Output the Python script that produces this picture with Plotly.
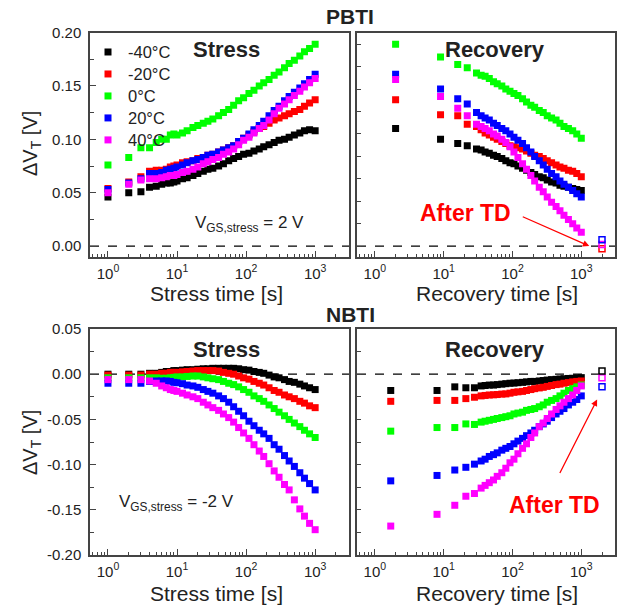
import plotly.graph_objects as go

# ---------------- data ----------------
temps = ["-40°C", "-20°C", "0°C", "20°C", "40°C"]
colors = ["#000000", "#ff0000", "#00ff00", "#0000ff", "#ff00ff"]

stress_t = [1, 2, 3, 4, 5, 6, 7, 8, 9, 10, 12, 14, 17, 20, 24, 28, 33, 40, 47, 56, 66, 78, 92, 110,
            130, 155, 180, 215, 255, 300, 360, 420, 500, 600, 700, 830, 1000]

pbti_stress_m40 = [0.046, 0.050, 0.051, 0.055, 0.056, 0.058, 0.059, 0.059, 0.060, 0.061,
                   0.063, 0.064, 0.066, 0.068, 0.070, 0.072, 0.073,
                   0.075, 0.077, 0.080, 0.082, 0.084, 0.086, 0.087,
                   0.089, 0.091, 0.093, 0.095, 0.097, 0.099,
                   0.100, 0.102, 0.104, 0.106, 0.108, 0.109, 0.108]
pbti_stress_m20 = [0.054, 0.060, 0.065, 0.070, 0.071, 0.071, 0.072, 0.074, 0.075, 0.076,
                   0.078, 0.079, 0.080, 0.082, 0.083, 0.085, 0.086,
                   0.088, 0.090, 0.092, 0.094, 0.098, 0.101, 0.104,
                   0.107, 0.110, 0.112, 0.115, 0.118, 0.120,
                   0.122, 0.124, 0.126, 0.128, 0.131, 0.134, 0.137]
pbti_stress_0 = [0.076, 0.083, 0.092, 0.092, 0.097, 0.100, 0.100, 0.104, 0.105, 0.104,
                 0.106, 0.108, 0.111, 0.113, 0.115, 0.117, 0.119,
                 0.122, 0.125, 0.128, 0.132, 0.136, 0.139, 0.143,
                 0.146, 0.150, 0.153, 0.156, 0.160, 0.163,
                 0.167, 0.171, 0.174, 0.178, 0.182, 0.185, 0.189]
pbti_stress_20 = [0.053, 0.059, 0.063, 0.068, 0.068, 0.069, 0.071, 0.072, 0.073, 0.074,
                  0.076, 0.078, 0.080, 0.081, 0.083, 0.085, 0.086,
                  0.088, 0.090, 0.092, 0.094, 0.098, 0.101, 0.105,
                  0.109, 0.113, 0.117, 0.122, 0.127, 0.131,
                  0.136, 0.140, 0.144, 0.148, 0.152, 0.156, 0.161]
pbti_stress_40 = [0.050, 0.058, 0.062, 0.063, 0.063, 0.064, 0.065, 0.066, 0.066, 0.067,
                  0.069, 0.070, 0.072, 0.074, 0.077, 0.079, 0.081,
                  0.083, 0.086, 0.088, 0.091, 0.095, 0.099, 0.102,
                  0.106, 0.110, 0.113, 0.118, 0.124, 0.129,
                  0.133, 0.137, 0.141, 0.145, 0.149, 0.153, 0.157]

pbti_rec_t = [2, 9, 16, 22, 30, 35, 40, 46, 53, 60, 70, 80, 92, 105, 120, 140, 160, 185, 210, 245,
              280, 320, 370, 430, 490, 560, 650, 750, 860, 1000]
pbti_rec_m40 = [0.110, 0.100, 0.096, 0.094, 0.091, 0.090, 0.088, 0.087, 0.085, 0.084,
                0.082, 0.080, 0.078, 0.077, 0.075, 0.073, 0.071, 0.069, 0.067, 0.065,
                0.064, 0.062, 0.060, 0.059, 0.057, 0.056, 0.055, 0.054, 0.053, 0.052]
pbti_rec_m20 = [0.137, 0.123, 0.122, 0.114, 0.112, 0.109, 0.106, 0.104, 0.102, 0.100,
                0.098, 0.096, 0.094, 0.093, 0.092, 0.091, 0.089, 0.087, 0.085, 0.084,
                0.082, 0.080, 0.078, 0.076, 0.074, 0.073, 0.071, 0.070, 0.068, 0.065]
pbti_rec_0 = [0.189, 0.177, 0.170, 0.167, 0.162, 0.160, 0.159, 0.157, 0.154, 0.152,
              0.150, 0.147, 0.145, 0.143, 0.141, 0.138, 0.135, 0.132, 0.130, 0.127,
              0.125, 0.122, 0.120, 0.118, 0.115, 0.112, 0.110, 0.108, 0.105, 0.101]
pbti_rec_20 = [0.161, 0.147, 0.138, 0.133, 0.125, 0.122, 0.120, 0.118, 0.115, 0.113,
               0.110, 0.108, 0.105, 0.102, 0.099, 0.096, 0.092, 0.088, 0.084, 0.080,
               0.076, 0.072, 0.068, 0.065, 0.061, 0.058, 0.055, 0.052, 0.049, 0.046]
pbti_rec_40 = [0.156, 0.140, 0.129, 0.122, 0.114, 0.112, 0.110, 0.108, 0.105, 0.103,
               0.100, 0.097, 0.093, 0.088, 0.083, 0.077, 0.072, 0.066, 0.061, 0.055,
               0.051, 0.046, 0.041, 0.037, 0.033, 0.029, 0.025, 0.021, 0.017, 0.013]

nbti_stress_m40 = [0.000, 0.000, 0.000, 0.001, 0.001, 0.002, 0.003, 0.003, 0.004, 0.004,
                   0.0045, 0.005, 0.005, 0.0055, 0.006, 0.006, 0.0065,
                   0.0065, 0.0065, 0.0065, 0.0065, 0.006, 0.005, 0.0045,
                   0.003, 0.002, 0.001, -0.001, -0.003, -0.004,
                   -0.006, -0.008, -0.009, -0.011, -0.013, -0.015, -0.017]
nbti_stress_m20 = [-0.001, -0.001, -0.001, 0.000, 0.000, 0.001, 0.001, 0.002, 0.002, 0.002,
                   0.0026, 0.003, 0.0035, 0.004, 0.004, 0.004, 0.004,
                   0.0035, 0.002, 0.001, 0.000, -0.002, -0.004, -0.0055,
                   -0.008, -0.010, -0.012, -0.015, -0.018, -0.020,
                   -0.023, -0.025, -0.027, -0.030, -0.032, -0.035, -0.037]
nbti_stress_0 = [-0.004, -0.004, -0.004, -0.004, -0.004, -0.0045, -0.0045, -0.004, -0.0035, -0.003,
                 -0.003, -0.0025, -0.002, -0.002, -0.003, -0.004, -0.005,
                 -0.006, -0.008, -0.010, -0.0115, -0.014, -0.017, -0.020,
                 -0.024, -0.027, -0.030, -0.034, -0.038, -0.042,
                 -0.046, -0.050, -0.054, -0.058, -0.062, -0.066, -0.070]
nbti_stress_20 = [-0.010, -0.010, -0.010, -0.008, -0.0075, -0.0075, -0.0075, -0.008, -0.009, -0.0095,
                  -0.0105, -0.012, -0.013, -0.0145, -0.017, -0.019, -0.021,
                  -0.024, -0.027, -0.031, -0.036, -0.041, -0.046, -0.052,
                  -0.057, -0.062, -0.066, -0.071, -0.078, -0.083,
                  -0.090, -0.096, -0.102, -0.109, -0.115, -0.121, -0.128]
nbti_stress_40 = [-0.006, -0.006, -0.006, -0.0075, -0.010, -0.013, -0.015, -0.017, -0.018, -0.019,
                  -0.021, -0.023, -0.025, -0.027, -0.031, -0.034, -0.037,
                  -0.040, -0.044, -0.048, -0.053, -0.059, -0.065, -0.071,
                  -0.078, -0.085, -0.091, -0.099, -0.107, -0.114,
                  -0.122, -0.128, -0.139, -0.149, -0.157, -0.165, -0.172]

nbti_rec_t = [1.7, 8, 14.5, 21, 28, 35, 40, 46, 53, 60, 70, 80, 92, 105, 120, 140, 160, 185, 210, 245,
              280, 320, 370, 430, 490, 560, 650, 750, 860, 1000]
nbti_rec_m40 = [-0.018, -0.018, -0.014, -0.015, -0.015, -0.013, -0.0125, -0.012, -0.012, -0.0115,
                -0.011, -0.0105, -0.010, -0.0098, -0.0094, -0.009, -0.0085, -0.008, -0.008, -0.0075,
                -0.007, -0.0065, -0.006, -0.0057, -0.0053, -0.005, -0.0047, -0.0045, -0.004, -0.0038]
nbti_rec_m20 = [-0.030, -0.029, -0.029, -0.027, -0.0255, -0.024, -0.0235, -0.023, -0.0228, -0.0225,
                -0.022, -0.0218, -0.021, -0.020, -0.0195, -0.019, -0.018, -0.017, -0.016, -0.0152,
                -0.0145, -0.0135, -0.0125, -0.0115, -0.011, -0.010, -0.0093, -0.0085, -0.008, -0.0075]
nbti_rec_0 = [-0.063, -0.059, -0.059, -0.055, -0.0556, -0.053, -0.052, -0.051, -0.050, -0.049,
              -0.048, -0.047, -0.046, -0.044, -0.043, -0.042, -0.040, -0.039, -0.038, -0.036,
              -0.034, -0.031, -0.029, -0.027, -0.024, -0.021, -0.018, -0.016, -0.014, -0.012]
nbti_rec_20 = [-0.118, -0.112, -0.106, -0.103, -0.0995, -0.096, -0.094, -0.091, -0.089, -0.087,
               -0.084, -0.082, -0.080, -0.077, -0.074, -0.071, -0.068, -0.065, -0.062, -0.058,
               -0.055, -0.052, -0.048, -0.044, -0.041, -0.038, -0.034, -0.031, -0.028, -0.024]
nbti_rec_40 = [-0.168, -0.155, -0.145, -0.135, -0.132, -0.126, -0.123, -0.120, -0.117, -0.113,
               -0.109, -0.104, -0.098, -0.094, -0.088, -0.082, -0.077, -0.070, -0.065, -0.058,
               -0.054, -0.049, -0.044, -0.039, -0.035, -0.031, -0.027, -0.023, -0.018, -0.013]

# After thermal detrapping (open symbols)
td_t = 2000
pbti_td_colors = ["#ff0000", "#ff00ff", "#0000ff"]
pbti_td_vals = [-0.0025, 0.0015, 0.006]
nbti_td_colors = ["#0000ff", "#ff00ff", "#000000"]
nbti_td_vals = [-0.014, -0.004, 0.0035]

x_tickvals = [1, 10, 100, 1000]
x_ticktext = ["10<sup>0</sup>", "10<sup>1</sup>", "10<sup>2</sup>", "10<sup>3</sup>"]
pbti_ytickvals = [0.0, 0.05, 0.10, 0.15, 0.20]
pbti_yticktext = ["0.00", "0.05", "0.10", "0.15", "0.20"]
nbti_ytickvals = [-0.20, -0.15, -0.10, -0.05, 0.0, 0.05]
nbti_yticktext = ["-0.20", "-0.15", "-0.10", "-0.05", "0.00", "0.05"]

# ---------------- figure ----------------
W, H = 628, 608
OFF = 8  # page body margin of the html page
FONT = "Arial, Liberation Sans, sans-serif"


def px(x):
    return (x - OFF) / W


def py(y):
    return 1 - (y - OFF) / H


fig = go.Figure()

panels = [
    ("x", "y", stress_t, [pbti_stress_m40, pbti_stress_m20, pbti_stress_0, pbti_stress_20, pbti_stress_40], True),
    ("x2", "y2", pbti_rec_t, [pbti_rec_m40, pbti_rec_m20, pbti_rec_0, pbti_rec_20, pbti_rec_40], False),
    ("x3", "y3", stress_t, [nbti_stress_m40, nbti_stress_m20, nbti_stress_0, nbti_stress_20, nbti_stress_40], False),
    ("x4", "y4", nbti_rec_t, [nbti_rec_m40, nbti_rec_m20, nbti_rec_0, nbti_rec_20, nbti_rec_40], False),
]

for xa, ya, tt, series, show in panels:
    for name, col, vals in zip(temps, colors, series):
        fig.add_trace(go.Scatter(
            x=tt, y=vals, mode="markers",
            name="<span style='font-size:16.5px'>%s</span>" % name, showlegend=show,
            marker=dict(symbol="square", size=7, color=col, line=dict(width=0)),
            xaxis=xa, yaxis=ya))

for col, v in zip(pbti_td_colors, pbti_td_vals):
    fig.add_trace(go.Scatter(x=[td_t], y=[v], mode="markers", showlegend=False,
                             marker=dict(symbol="square-open", size=6, color=col, line=dict(width=1.5)),
                             xaxis="x2", yaxis="y2"))
for col, v in zip(nbti_td_colors, nbti_td_vals):
    fig.add_trace(go.Scatter(x=[td_t], y=[v], mode="markers", showlegend=False,
                             marker=dict(symbol="square-open", size=6, color=col, line=dict(width=1.5)),
                             xaxis="x4", yaxis="y4"))

minor_x = [m * 10 ** d for d in range(-1, 4) for m in range(2, 10)]
minor_x = [v for v in minor_x if 0.55 <= v <= 3000]

xdom_l = [px(90), px(349)]
xdom_r = [px(357), px(615)]
ydom_t = [py(257), py(32.5)]
ydom_b = [py(555), py(329)]

line_col = "#444444"


def xaxis(dom, anchor):
    return dict(domain=dom, anchor=anchor, type="log", range=[-0.26, 3.49], automargin=False,
                tickvals=x_tickvals, ticktext=x_ticktext, ticks="inside", ticklen=6,
                tickwidth=1, tickcolor=line_col, ticklabelstandoff=2,
                minor=dict(tickvals=minor_x, ticks="inside", ticklen=3, tickcolor=line_col, tickwidth=1),
                showline=True, linecolor=line_col, linewidth=1.5, mirror=True,
                showgrid=False, zeroline=False,
                tickfont=dict(size=15, family=FONT, color="#222"))


def yaxis(dom, anchor, rng, tv, tt, labels, dtick_minor):
    d = dict(domain=dom, anchor=anchor, range=rng, ticks="inside", ticklen=6, automargin=False,
             tickwidth=1, tickcolor=line_col,
             showline=True, linecolor=line_col, linewidth=1.5, mirror=True,
             showgrid=False, zeroline=False,
             tickfont=dict(size=15, family=FONT, color="#222"))
    if labels:
        d.update(tickvals=tv, ticktext=tt, ticklabelstandoff=4,
                 minor=dict(tick0=0, dtick=dtick_minor, ticks="inside", ticklen=4,
                            tickcolor=line_col, tickwidth=1))
    else:
        d.update(tickmode="linear", tick0=0, dtick=dtick_minor, showticklabels=False, ticklen=4)
    return d


fig.update_layout(
    width=W, height=H, autosize=False,
    margin=dict(l=0, r=0, t=0, b=0, pad=0, autoexpand=False),
    paper_bgcolor="white", plot_bgcolor="white",
    font=dict(family=FONT, color="#222"),
    xaxis=xaxis(xdom_l, "y"),
    xaxis2=xaxis(xdom_r, "y2"),
    xaxis3=xaxis(xdom_l, "y3"),
    xaxis4=xaxis(xdom_r, "y4"),
    yaxis=yaxis(ydom_t, "x", [-0.0102, 0.2], pbti_ytickvals, pbti_yticktext, True, 0.025),
    yaxis2=yaxis(ydom_t, "x2", [-0.0102, 0.2], None, None, False, 0.021),
    yaxis3=yaxis(ydom_b, "x3", [-0.2, 0.05], nbti_ytickvals, nbti_yticktext, True, 0.025),
    yaxis4=yaxis(ydom_b, "x4", [-0.2, 0.05], None, None, False, 0.025),
    showlegend=True,
    legend=dict(x=px(88), y=py(36), xanchor="left", yanchor="top",
                font=dict(size=14.6, family=FONT, color="#222"),
                bgcolor="rgba(0,0,0,0)", tracegroupgap=0, itemwidth=30),
)

shapes = []
for xr, yr in [("x", "y"), ("x2", "y2"), ("x3", "y3"), ("x4", "y4")]:
    shapes.append(dict(type="line", xref=xr + " domain", yref=yr, x0=0, x1=1, y0=0, y1=0,
                       line=dict(color="black", width=1.3, dash="dash"), layer="below"))
fig.update_layout(shapes=shapes)

ann = []


def text(x, y, s, size, bold=False, color="#222", angle=0):
    ann.append(dict(x=px(x), y=py(y), xref="paper", yref="paper", text=("<b>%s</b>" % s) if bold else s,
                    showarrow=False, xanchor="center", yanchor="middle", textangle=angle,
                    font=dict(size=size, family=FONT, color=color)))


text(350, 17, "PBTI", 21, True)
text(350, 314, "NBTI", 21, True)
text(226, 49, "Stress", 22, True)
text(226, 349, "Stress", 22, True)
text(495, 50, "Recovery", 22, True)
text(495, 349, "Recovery", 22, True)
text(249, 224, "V<sub>GS,stress</sub> = 2 V", 17)
text(176, 503, "V<sub>GS,stress</sub> = -2 V", 17)
text(31, 144, "ΔV<sub>T</sub> [V]", 20, angle=-90)
text(31, 443, "ΔV<sub>T</sub> [V]", 20, angle=-90)
text(216, 293, "Stress time [s]", 21)
text(216, 593, "Stress time [s]", 21)
text(497, 293, "Recovery time [s]", 21)
text(497, 593, "Recovery time [s]", 21)
text(466, 213, "After TD", 23, True, color="#ff0000")
text(554, 505, "After TD", 23, True, color="#ff0000")

# arrows (head in data coords, tail offset in pixels)
ann.append(dict(x=3.116, y=0.0, xref="x2", yref="y2", ax=-68, ay=-30, axref="pixel", ayref="pixel",
                text="", showarrow=True, arrowhead=2, arrowsize=1, arrowwidth=1.3, arrowcolor="#ff0000"))
ann.append(dict(x=3.23, y=-0.028, xref="x4", yref="y4", ax=-38, ay=75, axref="pixel", ayref="pixel",
                text="", showarrow=True, arrowhead=2, arrowsize=1, arrowwidth=1.3, arrowcolor="#ff0000"))

fig.update_layout(annotations=ann)

fig.write_html("out.html")
